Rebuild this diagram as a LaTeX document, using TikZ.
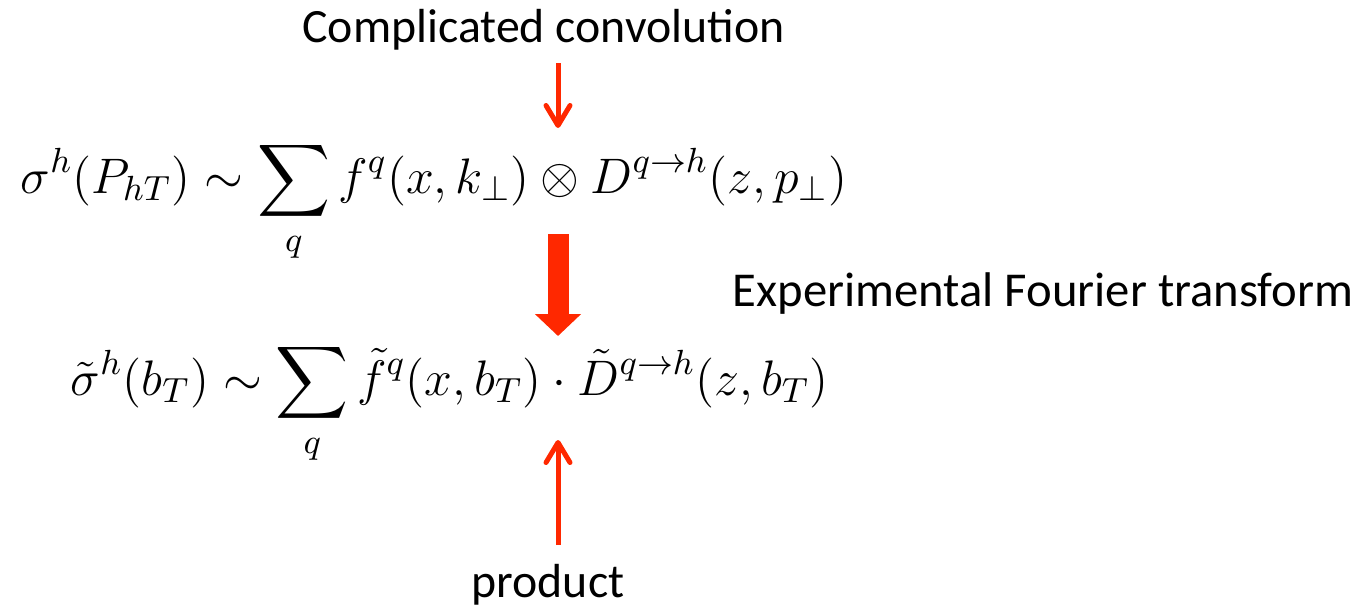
\RequirePackage{fix-cm}
\documentclass[tikz,border=0pt]{standalone}
\usepackage{fontspec}
\usepackage{amsmath}
\setmainfont{Carlito}
\usetikzlibrary{arrows.meta,positioning,calc}
\definecolor{arrowRed}{RGB}{255,40,0}
\tikzset{
  label/.style={inner sep=0pt, anchor=base, font=\fontsize{13.6}{16}\selectfont},
  formula/.style={inner sep=0pt, anchor=base west, font=\fontsize{14.2}{17}\selectfont},
  thinarrow/.style={-{Straight Barb[length=2mm, width=2.4mm, round]}, line width=0.5mm, color=arrowRed},
  bigarrow/.style={-{Triangle[length=2.2mm, width=4.5mm]}, line width=2.1mm, color=arrowRed}
}

\begin{document}
\begin{tikzpicture}
  \useasboundingbox (0,0) rectangle (13.55,6.11);
  \node[label] (conv) at (5.435,5.69) {Complicated convolution};
  \node[formula] (eqone) at (0.20,4.18)
    {$\displaystyle \sigma^h(P_{hT}) \sim \sum_q f^q(x,k_\perp) \otimes D^{q\to h}(z,p_\perp)$};
  \node[label, anchor=base west, font=\fontsize{13.85}{16}\selectfont] (fourier) at (7.32,3.05) {Experimental Fourier transform};
  \node[formula] (eqtwo) at (0.70,2.16)
    {$\displaystyle \tilde\sigma^h(b_T) \sim \sum_q \tilde f^q(x,b_T) \cdot \tilde D^{q\to h}(z,b_T)$};
  \node[label] (prod) at (5.48,0.14) {product};

  \coordinate (convend) at (5.58,5.48);
  \coordinate (otimes) at (5.58,4.83);
  \coordinate (ftstart) at (5.58,3.77);
  \coordinate (ftend) at (5.58,2.75);
  \coordinate (prodend) at (5.58,0.66);
  \coordinate (cdot) at (5.58,1.71);

  \draw[thinarrow] (convend) -- (otimes);
  \draw[bigarrow] (ftstart) -- (ftend);
  \draw[thinarrow] (prodend) -- (cdot);
\end{tikzpicture}
\end{document}
